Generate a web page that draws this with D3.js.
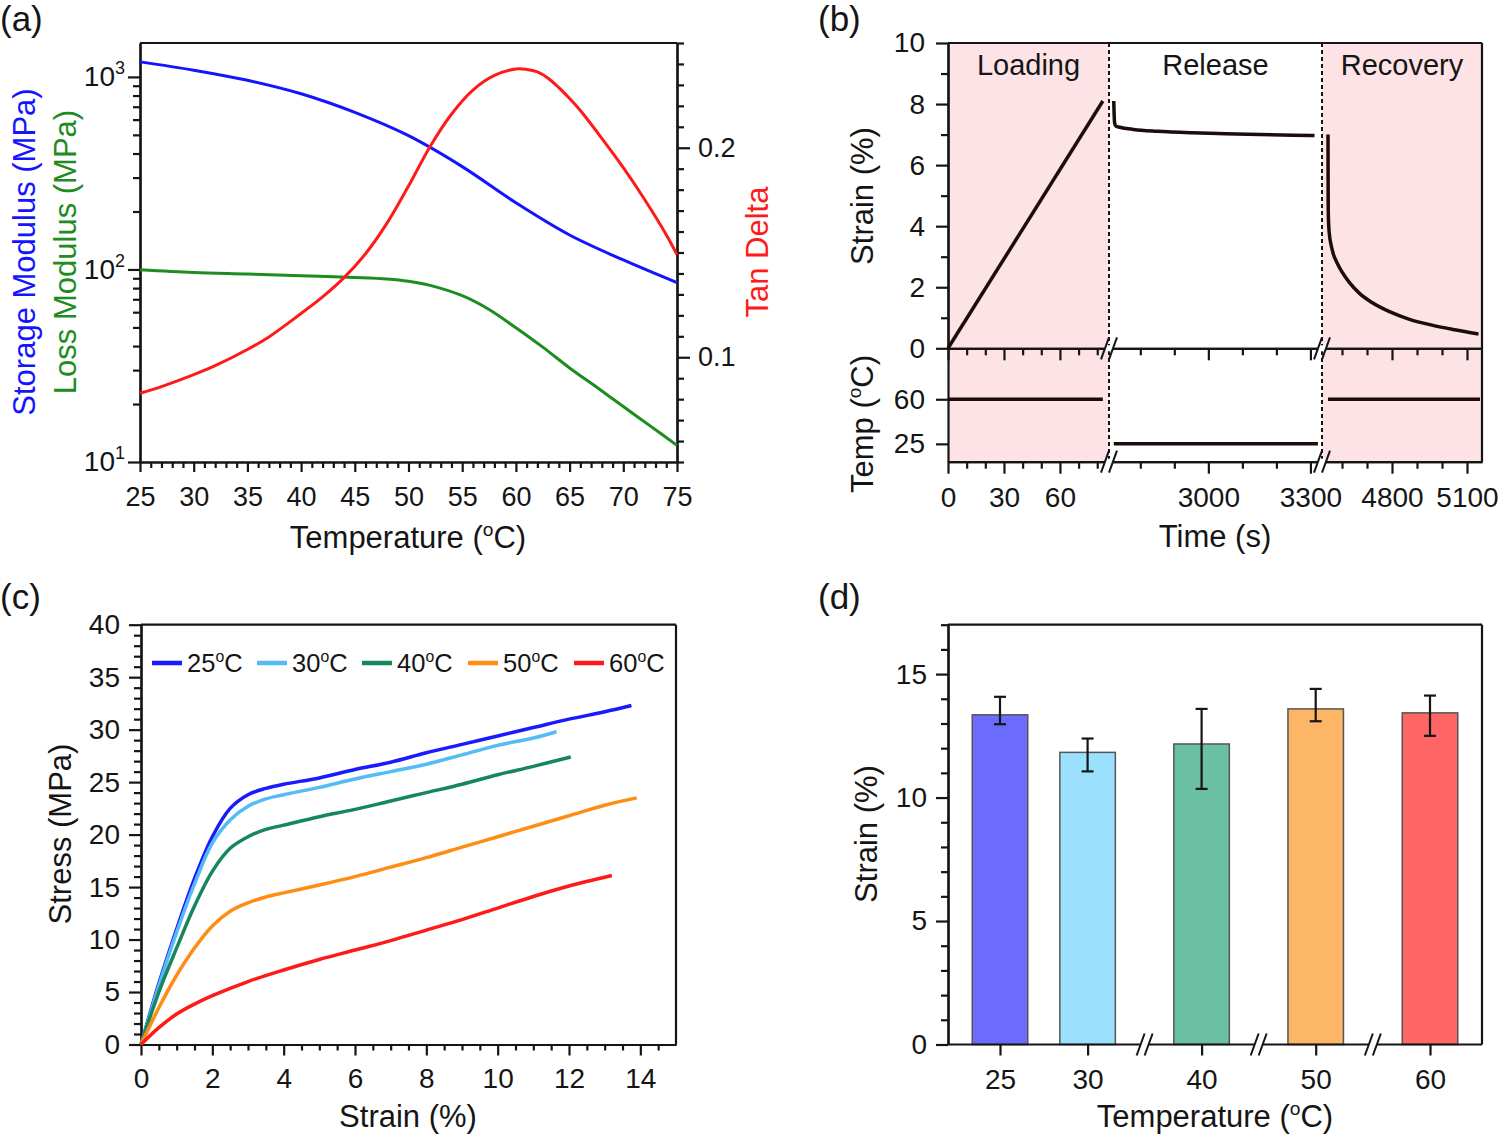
<!DOCTYPE html>
<html><head><meta charset="utf-8">
<script src="https://cdn.jsdelivr.net/npm/d3@7"></script>
<style>body{margin:0;background:#fff}</style>
</head><body><svg id="fig" width="1500" height="1137"></svg>
<script>
// ---------------- DATA ----------------
// (a) DMA
const storageT = [25,30,35,40,45,50,55,60,65,70,75];
const storageE = [1197,1084,960,817,654,495,342,222,151,112,85.4];
const lossT = [25,30,35,40,45,48,50,52,55,57.5,60,62.5,65,67.5,70,72.5,75];
const lossE = [99.5,96.4,94.6,92.7,90.9,89.3,86.9,82.7,73.1,62,49.8,39.5,30.8,24.5,19.4,15.4,12.2];
const tanT = [25,27,30,32,35,37,40,42,44,46,48,50,52,54,56,58,60,61,62,63,64,65,66,68,70,72,74,75];
const tanD = [0.0828,0.0860,0.0917,0.0960,0.1037,0.1097,0.1209,0.1288,0.138,0.1494,0.164,0.1817,0.2005,0.216,0.2275,0.2345,0.2376,0.2374,0.2362,0.2332,0.2287,0.2235,0.2178,0.2045,0.1905,0.1752,0.1585,0.149];
const aXTicks = [25,30,35,40,45,50,55,60,65,70,75];
const aTanTicks = [0.1,0.2];

// (b) shape-memory cycle
const loadT = [0, 83];
const loadS = [0, 8.1];
const relT = [2722,2723,2725,2728,2740,2780,2850,2950,3050,3150,3250,3312];
const relS = [8.1,7.7,7.35,7.28,7.24,7.17,7.11,7.06,7.03,7.0,6.98,6.97];
const recT = [4544,4544.5,4545,4547,4550,4556,4565,4580,4600,4630,4670,4720,4790,4870,4960,5050,5146];
const recS = [7.0,5.2,4.5,4.0,3.7,3.4,3.1,2.8,2.5,2.15,1.8,1.5,1.2,0.95,0.76,0.61,0.47];
const tempLoadT = [0, 83],      tempLoad = [60, 60];
const tempRelT = [2722, 3322],  tempRel = [25, 25];
const tempRecT = [4544, 5152],  tempRec = [60, 60];
const bTicks1 = [0,30,60],    bMinor1 = [10,20,40,50,70,80];
const bTicks2 = [3000,3300],  bMinor2 = [2800,2900,3100,3200];
const bTicks3 = [4800,5100],  bMinor3 = [4600,4700,4900,5000];
const bPhases = ["Loading","Release","Recovery"];

// (c) stress-strain
const cLabels = ["25","30","40","50","60"];
const cStrain = [
  [0,0.5,1,1.5,2,2.5,3,3.5,4,5,6,7,8,9,10,11,12,13,13.75],
  [0,0.5,1,1.5,2,2.5,3,3.5,4,5,6,7,8,9,10,11,11.65],
  [0,0.5,1,1.5,2,2.5,3,3.5,4,5,6,7,8,9,10,11,12.05],
  [0,0.5,1,1.5,2,2.5,3,3.5,4,5,6,7,8,9,10,11,12,13,13.9],
  [0,0.5,1,1.5,2,3,4,5,6,7,8,9,10,11,12,13.2]
];
const cStress = [
  [0,5.8,11,15.8,19.8,22.5,23.8,24.4,24.8,25.4,26.2,26.9,27.8,28.6,29.4,30.2,31,31.7,32.3],
  [0,5.6,10.7,15.3,19.2,21.4,22.7,23.4,23.8,24.5,25.3,26,26.7,27.6,28.5,29.2,29.8],
  [0,5,9.2,13.2,16.5,18.7,19.8,20.5,20.9,21.7,22.4,23.2,24,24.8,25.7,26.5,27.4],
  [0,3.5,6.6,9.2,11.3,12.7,13.5,14.05,14.45,15.2,16,16.9,17.8,18.8,19.8,20.8,21.8,22.8,23.5],
  [0,1.6,2.9,3.85,4.65,6.0,7.1,8.1,9.0,9.9,10.9,11.9,13.0,14.1,15.1,16.1]
];

// (d) recovery strain bars
const dCats = [25,30,40,50,60];
const dMean = [13.35,11.83,12.17,13.59,13.43];
const dErrHi = [14.08,12.39,13.59,14.40,14.13];
const dErrLo = [12.97,11.06,10.35,13.09,12.50];

// ---------------- STYLE ----------------
const F = '"Liberation Sans", Arial, Helvetica, sans-serif';
const INK = '#151515';
const AW = 2.2;
const TICKFS = 28, TITLEFS = 31;
const cColors = ["#1a1aff","#55bbf5","#16875a","#ff8c14","#ff1a1a"];
const dColors = ["#6b6bff","#9be0fd","#6bbfa2","#fdb666","#ff6666"];

const svg = d3.select('#fig');
svg.append('rect').attr('width',1500).attr('height',1137).attr('fill','#fff');

function styleAxis(g, fs){
  g.selectAll('path,line').attr('stroke',INK).attr('stroke-width',AW);
  g.selectAll('text').attr('font-family',F).attr('font-size',fs||TICKFS).attr('fill',INK);
  return g;
}
function text(g,x,y,s,opt){
  opt=opt||{};
  return g.append('text').attr('x',x).attr('y',y).attr('font-family',F)
    .attr('font-size',opt.size||TITLEFS).attr('fill',opt.fill||INK)
    .attr('text-anchor',opt.anchor||'middle').text(s);
}
function degText(g,x,y,pre,post,size,anchor,fill){
  const t=g.append('text').attr('x',x).attr('y',y).attr('font-family',F)
    .attr('font-size',size).attr('text-anchor',anchor||'middle').attr('fill',fill||INK);
  t.append('tspan').text(pre);
  t.append('tspan').attr('font-size',size*0.62).attr('dy',-size*0.4).text('o');
  t.append('tspan').attr('dy',size*0.4).text(post);
  return t;
}
function vText(g,xc,yc,s,size,fill){
  return g.append('text').attr('transform',`translate(${xc+size*0.35},${yc}) rotate(-90)`)
    .attr('font-family',F).attr('font-size',size).attr('fill',fill||INK)
    .attr('text-anchor','middle').text(s);
}
function hLine(g,x1,x2,y){ g.append('line').attr('x1',x1).attr('x2',x2).attr('y1',y).attr('y2',y).attr('stroke',INK).attr('stroke-width',AW); }
function vLine(g,x,y1,y2){ g.append('line').attr('x1',x).attr('x2',x).attr('y1',y1).attr('y2',y2).attr('stroke',INK).attr('stroke-width',AW); }
function brk(g,x,y,bg){
  g.append('rect').attr('x',x-4).attr('y',y-3).attr('width',8).attr('height',6).attr('fill',bg||'#fff');
  [-4,4].forEach(o=>g.append('line').attr('x1',x+o-4).attr('y1',y+11).attr('x2',x+o+4).attr('y2',y-11)
     .attr('stroke',INK).attr('stroke-width',2));
}
function panelLabel(x,y,s){ text(svg,x,y,s,{size:35,anchor:'start'}); }

panelLabel(0,31,'(a)'); panelLabel(818,31,'(b)'); panelLabel(0,609,'(c)'); panelLabel(818,609,'(d)');

// ---------------- (a) ----------------
{
const g = svg.append('g');
const L=140,R=677,T=43,B=462;
const x = d3.scaleLinear().domain([25,75]).range([L,R]);
const y = d3.scaleLog().domain([10,1500]).range([B,T]);
const y2 = d3.scaleLinear().domain([0.05,0.25]).range([B,T]);
const fs = 27;
styleAxis(g.append('g').attr('transform',`translate(0,${B})`)
  .call(d3.axisBottom(x).tickValues(aXTicks).tickSize(10).tickSizeOuter(0).tickPadding(15).tickFormat(d3.format('d'))),fs);
styleAxis(g.append('g').attr('transform',`translate(0,${B})`)
  .call(d3.axisBottom(x).tickValues(d3.range(25,76).filter(v=>v%5)).tickSize(6).tickSizeOuter(0).tickFormat('')));
const la = styleAxis(g.append('g').attr('transform',`translate(${L},0)`)
  .call(d3.axisLeft(y).tickValues([10,100,1000]).tickSize(12).tickSizeOuter(0).tickPadding(3)),28);
la.selectAll('.tick text').each(function(d){
  const t=d3.select(this); const e=Math.round(Math.log10(d)); t.text('');
  t.append('tspan').text('10');
  t.append('tspan').attr('font-size',18).attr('dy',-12).text(e);
});
const minorsLog=[]; [10,100,1000].forEach(p=>{for(let k=2;k<=9;k++){ if(p*k<=1500) minorsLog.push(p*k);} });
styleAxis(g.append('g').attr('transform',`translate(${L},0)`)
  .call(d3.axisLeft(y).tickValues(minorsLog).tickSize(7).tickSizeOuter(0).tickFormat('')));
styleAxis(g.append('g').attr('transform',`translate(${R},0)`)
  .call(d3.axisRight(y2).tickValues(aTanTicks).tickSize(13).tickSizeOuter(0).tickPadding(8).tickFormat(d3.format('.1f'))),fs);
styleAxis(g.append('g').attr('transform',`translate(${R},0)`)
  .call(d3.axisRight(y2).tickValues(d3.range(5,26).filter(v=>v!==10&&v!==20).map(v=>v/100)).tickSize(7).tickSizeOuter(0).tickFormat('')));
hLine(g,L,R,T);

const lineS = d3.line().x((d,i)=>x(storageT[i])).y(d=>y(d)).curve(d3.curveCatmullRom.alpha(0.5));
const lineL = d3.line().x((d,i)=>x(lossT[i])).y(d=>y(d)).curve(d3.curveCatmullRom.alpha(0.5));
const lineT = d3.line().x((d,i)=>x(tanT[i])).y(d=>y2(d)).curve(d3.curveCatmullRom.alpha(0.5));
g.append('path').attr('d',lineS(storageE)).attr('fill','none').attr('stroke','#1414ff').attr('stroke-width',3);
g.append('path').attr('d',lineL(lossE)).attr('fill','none').attr('stroke','#1e8c1e').attr('stroke-width',3);
g.append('path').attr('d',lineT(tanD)).attr('fill','none').attr('stroke','#ff1a1a').attr('stroke-width',3);

vText(g,24,252,'Storage Modulus (MPa)',TITLEFS,'#1414ff');
vText(g,65,252,'Loss Modulus (MPa)',TITLEFS,'#1e8c1e');
vText(g,757,252,'Tan Delta',TITLEFS,'#ff1a1a');
degText(g,408,548,'Temperature (','C)',TITLEFS);
}

// ---------------- (b) ----------------
{
const g = svg.append('g');
const L=948,R=1482,T=43,M=348.3,B=461.7, X1=1109, X2=1322;
const x1 = d3.scaleLinear().domain([0,86.3]).range([L,X1]);
const x2 = d3.scaleLinear().domain([2708,3334]).range([X1,X2]);
const x3 = d3.scaleLinear().domain([4520,5160]).range([X2,R]);
const y = d3.scaleLinear().domain([0,10]).range([M,T]);
const yT = d3.scaleLinear().domain([11,100]).range([B,M]);
const pink = '#fde3e5';
g.append('rect').attr('x',L).attr('y',T).attr('width',X1-L).attr('height',B-T).attr('fill',pink);
g.append('rect').attr('x',X2).attr('y',T).attr('width',R-X2).attr('height',B-T).attr('fill',pink);

[[x1,bTicks1,bMinor1],[x2,bTicks2,bMinor2],[x3,bTicks3,bMinor3]].forEach(([sc,maj,min])=>{
  [M,B].forEach(yy=>{
    styleAxis(g.append('g').attr('transform',`translate(0,${yy})`)
      .call(d3.axisBottom(sc).tickValues(maj).tickSize(12).tickSizeOuter(0).tickPadding(13)
        .tickFormat(yy===B? d3.format('d') : ()=>'')));
    styleAxis(g.append('g').attr('transform',`translate(0,${yy})`)
      .call(d3.axisBottom(sc).tickValues(min).tickSize(7).tickSizeOuter(0).tickFormat('')));
  });
});
styleAxis(g.append('g').attr('transform',`translate(${L},0)`)
  .call(d3.axisLeft(y).tickValues([0,2,4,6,8,10]).tickSize(12).tickSizeOuter(0).tickPadding(11).tickFormat(d3.format('d'))));
styleAxis(g.append('g').attr('transform',`translate(${L},0)`)
  .call(d3.axisLeft(y).tickValues([1,3,5,7,9]).tickSize(7).tickSizeOuter(0).tickFormat('')));
styleAxis(g.append('g').attr('transform',`translate(${L},0)`)
  .call(d3.axisLeft(yT).tickValues([25,60]).tickSize(12).tickSizeOuter(0).tickPadding(11).tickFormat(d3.format('d'))));
hLine(g,L,R,T); vLine(g,R,T,B);

[X1,X2].forEach(xx=>{
  g.append('line').attr('x1',xx).attr('x2',xx).attr('y1',T).attr('y2',B)
   .attr('stroke',INK).attr('stroke-width',2).attr('stroke-dasharray','4,3');
});
[X1,X2].forEach(xx=>{ brk(g,xx,M,'#fff'); brk(g,xx,B,'#fff'); });

const lw=3.5, lc='#1c0c0c';
const mk=(sc,ys,yv)=>d3.line().x((d,i)=>sc(ys[i])).y(d=>yv(d)).curve(d3.curveMonotoneX);
g.append('path').attr('d',mk(x1,loadT,y)(loadS)).attr('fill','none').attr('stroke',lc).attr('stroke-width',lw);
g.append('path').attr('d',mk(x2,relT,y)(relS)).attr('fill','none').attr('stroke',lc).attr('stroke-width',lw);
g.append('path').attr('d',mk(x3,recT,y)(recS)).attr('fill','none').attr('stroke',lc).attr('stroke-width',lw);
g.append('path').attr('d',mk(x1,tempLoadT,yT)(tempLoad)).attr('fill','none').attr('stroke',lc).attr('stroke-width',lw);
g.append('path').attr('d',mk(x2,tempRelT,yT)(tempRel)).attr('fill','none').attr('stroke',lc).attr('stroke-width',lw);
g.append('path').attr('d',mk(x3,tempRecT,yT)(tempRec)).attr('fill','none').attr('stroke',lc).attr('stroke-width',lw);

const mids=[(L+X1)/2,(X1+X2)/2,(X2+R)/2];
bPhases.forEach((p,i)=>text(g,mids[i],75,p,{size:29}));

vText(g,862,196,'Strain (%)',TITLEFS);
const tt = g.append('text').attr('transform',`translate(${862+TITLEFS*0.35},424) rotate(-90)`)
  .attr('font-family',F).attr('font-size',TITLEFS).attr('fill',INK).attr('text-anchor','middle');
tt.append('tspan').text('Temp (');
tt.append('tspan').attr('font-size',19).attr('dy',-12).text('o');
tt.append('tspan').attr('dy',12).text('C)');
text(g,1215,547,'Time (s)',{size:TITLEFS});
}

// ---------------- (c) ----------------
{
const g = svg.append('g');
const L=141,R=676,T=624.7,B=1044.5;
const x = d3.scaleLinear().domain([0,15]).range([L,R]);
const y = d3.scaleLinear().domain([0,40]).range([B,T]);
styleAxis(g.append('g').attr('transform',`translate(0,${B})`)
  .call(d3.axisBottom(x).tickValues(d3.range(0,15,2)).tickSize(11).tickSizeOuter(0).tickPadding(13).tickFormat(d3.format('d'))));
styleAxis(g.append('g').attr('transform',`translate(0,${B})`)
  .call(d3.axisBottom(x).tickValues(d3.range(1,30).filter(v=>v%4).map(v=>v/2)).tickSize(6).tickSizeOuter(0).tickFormat('')));
styleAxis(g.append('g').attr('transform',`translate(${L},0)`)
  .call(d3.axisLeft(y).tickValues(d3.range(0,41,5)).tickSize(12).tickSizeOuter(0).tickPadding(9).tickFormat(d3.format('d'))));
styleAxis(g.append('g').attr('transform',`translate(${L},0)`)
  .call(d3.axisLeft(y).tickValues(d3.range(0,41).filter(v=>v%5)).tickSize(7).tickSizeOuter(0).tickFormat('')));
hLine(g,L,R,T); vLine(g,R,T,B);

cLabels.forEach((lab,k)=>{
  const ln = d3.line().x((d,i)=>x(cStrain[k][i])).y(d=>y(d)).curve(d3.curveCatmullRom.alpha(0.5));
  g.append('path').attr('d',ln(cStress[k])).attr('fill','none').attr('stroke',cColors[k]).attr('stroke-width',3.5);
});
const lx=[152,257,362,468,574];
cLabels.forEach((lab,k)=>{
  g.append('line').attr('x1',lx[k]).attr('x2',lx[k]+30).attr('y1',663).attr('y2',663)
    .attr('stroke',cColors[k]).attr('stroke-width',4.5);
  degText(g,lx[k]+35,672,lab,'C',25.5,'start');
});
vText(g,60,834,'Stress (MPa)',TITLEFS);
text(g,408,1127,'Strain (%)',{size:TITLEFS});
}

// ---------------- (d) ----------------
{
const g = svg.append('g');
const L=948,R=1482,T=624.7,B=1044.5;
const x = d3.scaleLinear().domain(dCats).range([1000,1087.6,1201.6,1315.7,1430]);
const y = d3.scaleLinear().domain([0,17]).range([B,T]);
const bw = 55.5;
g.selectAll('rect.bar').data(dMean).join('rect').attr('class','bar')
  .attr('x',(d,i)=>x(dCats[i])-bw/2).attr('y',d=>y(d)).attr('width',bw).attr('height',d=>B-y(d))
  .attr('fill',(d,i)=>dColors[i]).attr('stroke','#555').attr('stroke-width',1.5);
dCats.forEach((c,i)=>{
  const cx=x(c);
  g.append('line').attr('x1',cx).attr('x2',cx).attr('y1',y(dErrHi[i])).attr('y2',y(dErrLo[i])).attr('stroke',INK).attr('stroke-width',2.2);
  [dErrHi[i],dErrLo[i]].forEach(v=>g.append('line').attr('x1',cx-6).attr('x2',cx+6).attr('y1',y(v)).attr('y2',y(v)).attr('stroke',INK).attr('stroke-width',2.2));
});
styleAxis(g.append('g').attr('transform',`translate(0,${B})`)
  .call(d3.axisBottom(x).tickValues(dCats).tickSize(11).tickSizeOuter(0).tickPadding(14).tickFormat(d3.format('d'))));
g.select('.domain').remove();
hLine(g,L,R,B);
styleAxis(g.append('g').attr('transform',`translate(${L},0)`)
  .call(d3.axisLeft(y).tickValues([0,5,10,15]).tickSize(12).tickSizeOuter(0).tickPadding(9).tickFormat(d3.format('d'))));
styleAxis(g.append('g').attr('transform',`translate(${L},0)`)
  .call(d3.axisLeft(y).tickValues(d3.range(0,18).filter(v=>v%5)).tickSize(7).tickSizeOuter(0).tickFormat('')));
hLine(g,L,R,T); vLine(g,R,T,B);
[1,2,3].forEach(i=>brk(g,(x(dCats[i])+x(dCats[i+1]))/2,B,'#fff'));
vText(g,866,834,'Strain (%)',TITLEFS);
degText(g,1215,1127,'Temperature (','C)',TITLEFS);
}
</script></body></html>
